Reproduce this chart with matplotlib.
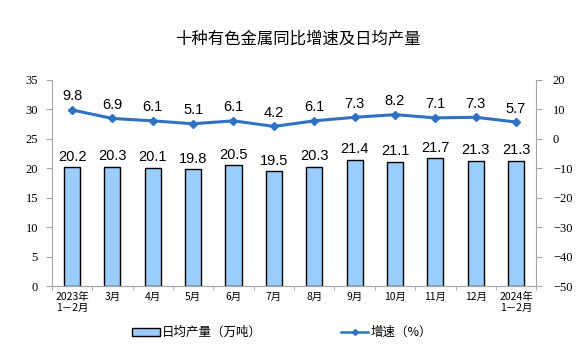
import numpy as np
import matplotlib.pyplot as plt
from matplotlib.lines import Line2D
from matplotlib.patches import Patch

plt.rcParams['font.family'] = ['Noto Sans CJK SC', 'DejaVu Sans']

# =========================
# Data
# =========================
months = ["2023年\n1－2月", "3月", "4月", "5月", "6月", "7月", "8月",
          "9月", "10月", "11月", "12月", "2024年\n1－2月"]
output = [20.2, 20.3, 20.1, 19.8, 20.5, 19.5, 20.3, 21.4, 21.1, 21.7, 21.3, 21.3]
growth = [9.8, 6.9, 6.1, 5.1, 6.1, 4.2, 6.1, 7.3, 8.2, 7.1, 7.3, 5.7]

bar_color = "#99CCFF"
line_color = "#2F72C4"
axis_gray = "#A6A6A6"

fig = plt.figure(figsize=(5.76, 3.55), dpi=100)
ax = fig.add_axes([0.090, 0.194, 0.841, 0.581])
ax2 = ax.twinx()

x = np.arange(len(months))
ax.bar(x, output, width=0.4, color=bar_color, edgecolor="black", linewidth=1.0, zorder=2)
for xi, v in zip(x, output):
    ax.text(xi, v + 0.6, f"{v:.1f}", ha="center", va="bottom", fontsize=10.5,
            family="Liberation Sans")

ax2.plot(x, growth, color=line_color, linewidth=2.2, marker="D", markersize=4.5, zorder=3)
for xi, v in zip(x, growth):
    ax2.text(xi, v + 2.2, f"{v:.1f}", ha="center", va="bottom", fontsize=10.5,
             family="Liberation Sans")

ax.set_xlim(-0.5, len(months) - 0.5)
ax.set_ylim(0, 35)
ax.set_yticks(range(0, 36, 5))
ax2.set_ylim(-50, 20)
ax2.set_yticks(range(-50, 21, 10))

ax.set_xticks(x)
ax.set_xticklabels(months, fontsize=7.5, linespacing=1.1)
ax.set_xticks(np.arange(-0.5, len(months), 1), minor=True)
ax.tick_params(axis="x", which="major", length=0, pad=4)
ax.tick_params(axis="x", which="minor", length=3, color=axis_gray)

for a in (ax, ax2):
    a.spines["top"].set_visible(False)
    for s in ("left", "right", "bottom"):
        a.spines[s].set_color(axis_gray)
    a.set_facecolor("none")
ax2.spines["left"].set_visible(False)
ax.spines["right"].set_visible(False)

for lab in ax.get_yticklabels() + ax2.get_yticklabels():
    lab.set_family("Liberation Serif")
    lab.set_fontsize(9)
ax.tick_params(axis="y", length=4, color=axis_gray, pad=6)
ax2.tick_params(axis="y", length=4, color=axis_gray, pad=8)

fig.text(0.518, 0.887, "十种有色金属同比增速及日均产量", ha="center", va="center", fontsize=11.8)

handles = [Patch(facecolor=bar_color, edgecolor="black", linewidth=1.0),
           Line2D([], [], color=line_color, linewidth=1.8, marker="D", markersize=3)]
fig.legend(handles, ["日均产量（万吨）", "增速（%）"], loc="center",
           bbox_to_anchor=(0.49, 0.063), ncol=2, frameon=False, fontsize=9,
           columnspacing=6.3, handlelength=2.2, handleheight=0.6, handletextpad=0.2)

fig.savefig("out.png", dpi=100)
